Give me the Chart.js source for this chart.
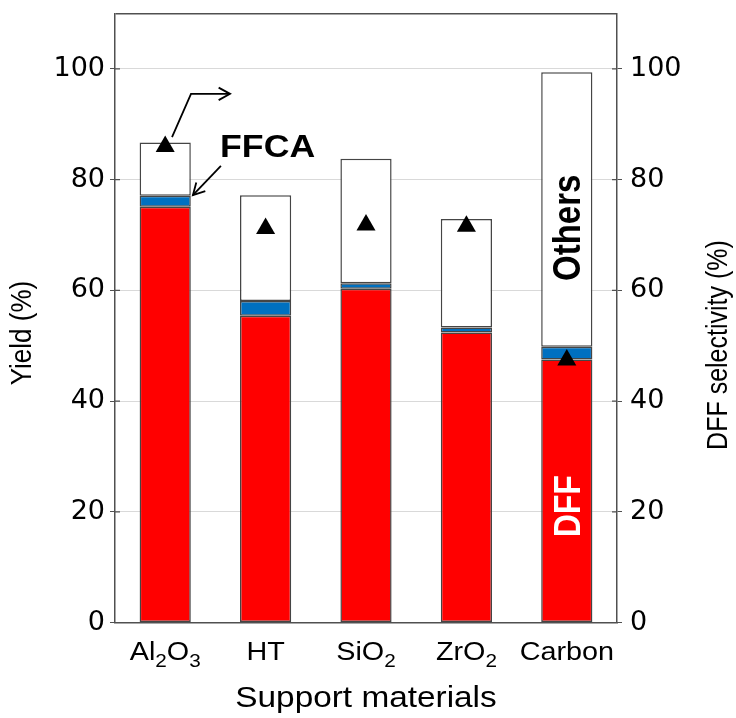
<!DOCTYPE html>
<html>
<head>
<meta charset="utf-8">
<script src="https://cdn.jsdelivr.net/npm/chart.js@4"></script>
<style>
  html, body { margin: 0; padding: 0; background: #fff; }
</style>
</head>
<body>
<canvas id="chart" width="736" height="718"></canvas>
<script>
// data
var supports = ["Al2O3", "HT", "SiO2", "ZrO2", "Carbon"];
var dffYield = [75.1, 55.4, 60.3, 52.4, 47.5];
var ffcaYield = [2.0, 2.7, 1.0, 0.9, 2.3];
var othersYield = [9.6, 19.1, 22.5, 19.6, 49.6];
var dffSelectivity = [86.0, 71.2, 71.8, 71.6, 47.4];

var FONT = "'DejaVu Sans', sans-serif";
var ARIAL = "'Liberation Sans', Arial, sans-serif";
var STRETCH = 1.15; // the source figure is a bit wider than tall
var AXIS = "#505050";

// text drawn with the figure's horizontal stretch; rot = -90deg for vertical labels
function stretchedText(ctx, text, x, y, font, rot, color) {
  ctx.save();
  ctx.translate(x, y);
  ctx.scale(STRETCH, 1);
  if (rot) ctx.rotate(rot);
  ctx.font = font;
  ctx.fillStyle = color || "#000";
  ctx.textAlign = "center";
  ctx.textBaseline = "middle";
  ctx.fillText(text, 0, 0);
  ctx.restore();
}

function drawRich(ctx, text, cx, baseline, size) {
  // digits become subscripts (Al2O3 -> Al₂O₃)
  var parts = text.match(/\d+|\D+/g);
  var sub = Math.round(size * 0.72);
  ctx.save();
  ctx.translate(cx, baseline);
  ctx.scale(STRETCH, 1);
  ctx.fillStyle = "#000";
  ctx.textAlign = "left";
  ctx.textBaseline = "alphabetic";
  var widths = parts.map(function (p) {
    ctx.font = (/\d/.test(p) ? sub : size) + "px " + ARIAL;
    return ctx.measureText(p).width;
  });
  var total = widths.reduce(function (a, b) { return a + b; }, 0);
  var x = -total / 2;
  parts.forEach(function (p, i) {
    var isSub = /\d/.test(p);
    ctx.font = (isSub ? sub : size) + "px " + ARIAL;
    ctx.fillText(p, x, isSub ? size * 0.3 : 0);
    x += widths[i];
  });
  ctx.restore();
}

function drawArrow(ctx, pts) {
  ctx.beginPath();
  ctx.moveTo(pts[0][0], pts[0][1]);
  for (var i = 1; i < pts.length; i++) ctx.lineTo(pts[i][0], pts[i][1]);
  ctx.stroke();
  var a = pts[pts.length - 2], b = pts[pts.length - 1];
  var ang = Math.atan2(b[1] - a[1], b[0] - a[0]);
  var len = 13, spread = 0.5;
  ctx.beginPath();
  ctx.moveTo(b[0] - len * Math.cos(ang - spread), b[1] - len * Math.sin(ang - spread));
  ctx.lineTo(b[0], b[1]);
  ctx.lineTo(b[0] - len * Math.cos(ang + spread), b[1] - len * Math.sin(ang + spread));
  ctx.stroke();
}

var decorations = {
  id: "decorations",
  afterDraw: function (chart) {
    var ctx = chart.ctx, xs = chart.scales.x, ys = chart.scales.y, area = chart.chartArea;
    var px = function (v) { return xs.getPixelForValue(v); };
    var py = function (v) { return ys.getPixelForValue(v); };
    var midY = (area.top + area.bottom) / 2;

    // tick marks also poke a little into the plot on both sides
    ctx.save();
    ctx.strokeStyle = AXIS;
    ctx.lineWidth = 1.2;
    ys.ticks.forEach(function (t) {
      if (t.value === 110) return;
      var y = py(t.value);
      ctx.beginPath();
      ctx.moveTo(area.left, y); ctx.lineTo(area.left + 5, y);
      ctx.moveTo(area.right, y); ctx.lineTo(area.right - 5, y);
      ctx.stroke();
    });
    ctx.restore();

    supports.forEach(function (s, i) {
      drawRich(ctx, s, px(i), area.bottom + 37, 25);
    });

    stretchedText(ctx, "Support materials", (area.left + area.right) / 2, area.bottom + 76, "29px " + ARIAL);
    stretchedText(ctx, "Yield (%)", 23, midY + 15, "26px " + ARIAL, -Math.PI / 2);
    stretchedText(ctx, "DFF selectivity (%)", chart.width - 17, midY + 27, "25px " + ARIAL, -Math.PI / 2);

    stretchedText(ctx, "FFCA", px(1.02), py(85.6), "bold 31px " + ARIAL);
    stretchedText(ctx, "Others", px(4) + 3, py(71.3), "bold 33px " + ARIAL, -Math.PI / 2);
    stretchedText(ctx, "DFF", px(4) + 3, py(21), "bold 32px " + ARIAL, -Math.PI / 2, "#fff");

    ctx.save();
    ctx.strokeStyle = "#000";
    ctx.lineWidth = 1.8;
    drawArrow(ctx, [[px(0.555), py(82.5)], [px(0.276), py(77.2)]]);
    drawArrow(ctx, [[px(0.068), py(87.7)], [px(0.257), py(95.5)], [px(0.646), py(95.5)]]);
    ctx.restore();
  }
};

function gridColor(c) {
  if (c.tick.value === 110) return AXIS;
  if (c.tick.value === 0) return "rgba(0,0,0,0)";
  return "#d9d9d9";
}
function tickColor(c) {
  return c.tick && c.tick.value === 110 ? "rgba(0,0,0,0)" : AXIS;
}
function hideTop(v) { return v === 110 ? "" : v; }
function noPad(s) { s.paddingTop = 0; s.paddingBottom = 0; }

var barStyle = {
  borderColor: "#454545",
  borderWidth: 1.5,
  borderSkipped: false,
  barPercentage: 0.51,
  categoryPercentage: 1.0,
  order: 1
};

new Chart(document.getElementById("chart"), {
  type: "bar",
  data: {
    labels: supports,
    datasets: [
      Object.assign({ label: "DFF", data: dffYield, backgroundColor: "#ff0000" }, barStyle),
      Object.assign({ label: "FFCA", data: ffcaYield, backgroundColor: "#0070c0" }, barStyle),
      Object.assign({ label: "Others", data: othersYield, backgroundColor: "#ffffff" }, barStyle),
      {
        type: "line",
        label: "DFF selectivity",
        data: dffSelectivity,
        yAxisID: "y2",
        showLine: false,
        pointStyle: "triangle",
        pointRadius: 11,
        pointBackgroundColor: "#000",
        pointBorderColor: "#000",
        pointBorderWidth: 0,
        order: 0
      }
    ]
  },
  plugins: [decorations],
  options: {
    responsive: false,
    animation: false,
    layout: { padding: { top: 13.6, left: 0, right: 0, bottom: 0 } },
    plugins: { legend: { display: false }, tooltip: { enabled: false } },
    scales: {
      x: {
        stacked: true,
        grid: { display: false },
        border: { color: AXIS, width: 1.5 },
        ticks: { display: false },
        afterFit: function (s) { s.height = 95.5; s.paddingLeft = 0; s.paddingRight = 0; }
      },
      y: {
        stacked: true,
        position: "left",
        min: 0,
        max: 110,
        ticks: {
          stepSize: 20,
          padding: 5,
          color: "#000",
          font: { family: FONT, size: 27 },
          callback: hideTop
        },
        grid: {
          color: gridColor,
          lineWidth: function (c) { return c.tick.value === 110 ? 1.5 : 1; },
          tickColor: tickColor,
          tickLength: 5
        },
        border: { color: AXIS, width: 1.5 },
        afterFit: function (s) { s.width = 115; noPad(s); }
      },
      y2: {
        position: "right",
        min: 0,
        max: 110,
        ticks: {
          stepSize: 20,
          padding: 8,
          color: "#000",
          font: { family: FONT, size: 27 },
          callback: hideTop
        },
        grid: { drawOnChartArea: false, tickColor: tickColor, tickLength: 5 },
        border: { color: AXIS, width: 1.5 },
        afterFit: function (s) { s.width = 119; noPad(s); }
      }
    }
  }
});
</script>
</body>
</html>
